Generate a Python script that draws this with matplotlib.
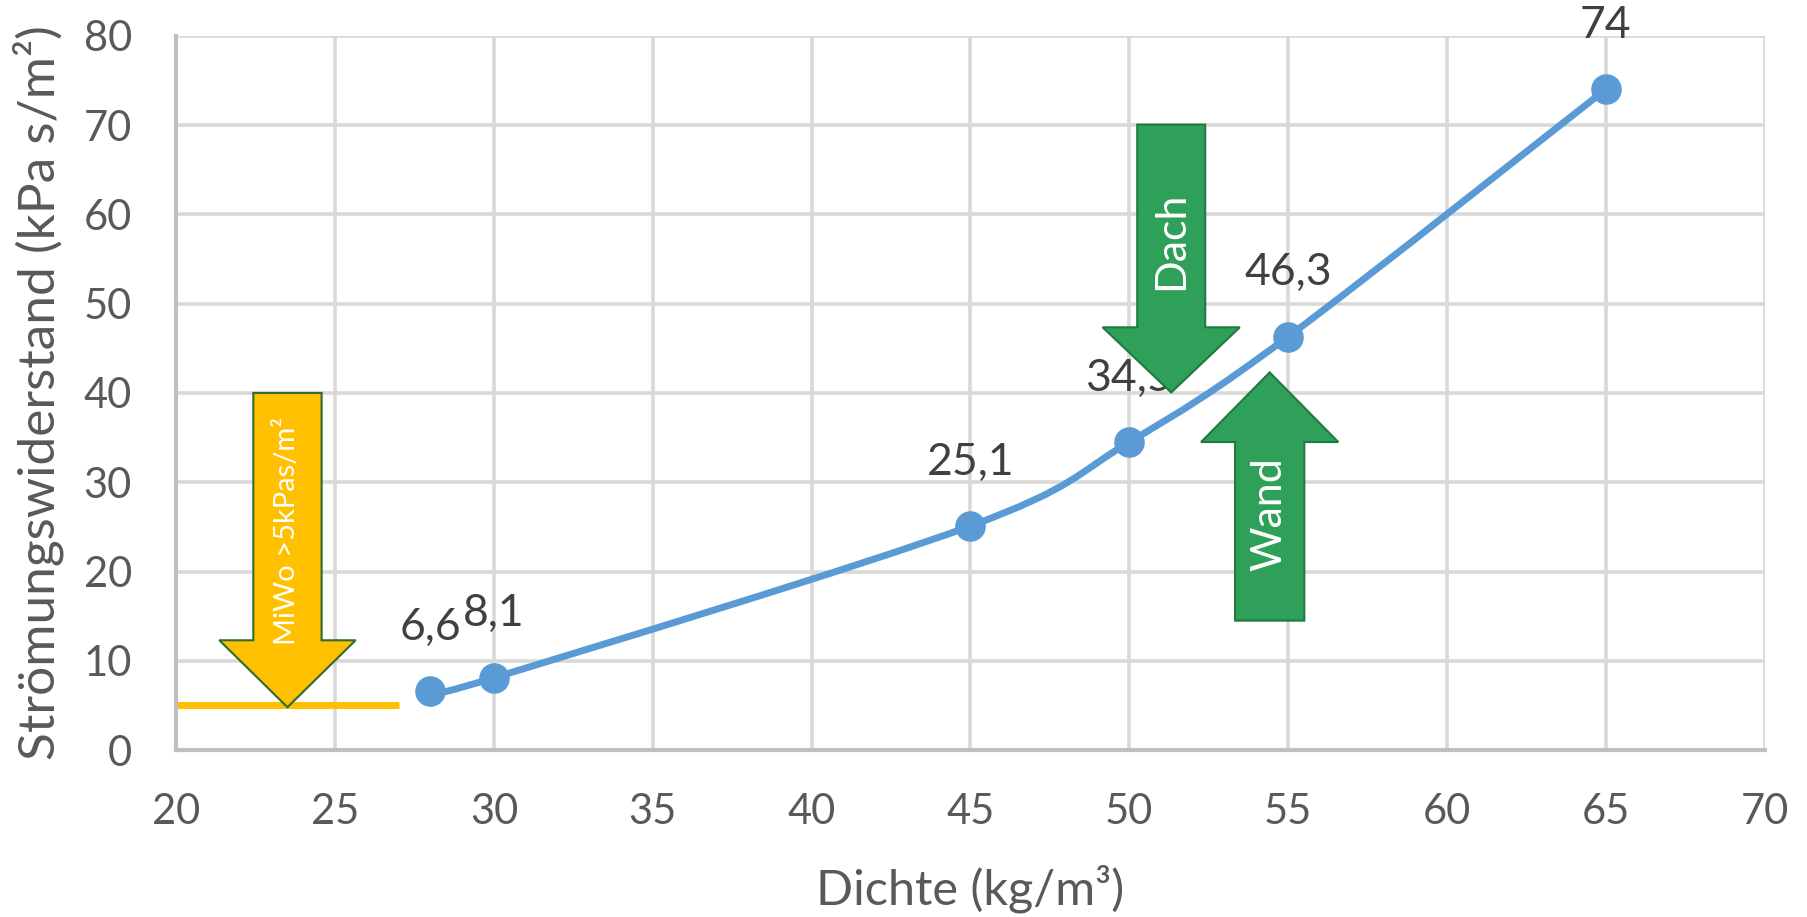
import numpy as np
import matplotlib
matplotlib.use("Agg")
import matplotlib.pyplot as plt
from matplotlib.path import Path
from matplotlib.patches import PathPatch, FancyArrow

plt.rcParams["font.family"] = ["Lato", "DejaVu Sans"]

# measured points
dichte = [28, 30, 45, 50, 55, 65]
widerstand = [6.6, 8.1, 25.1, 34.5, 46.3, 74]
labels = ["6,6", "8,1", "25,1", "34,5", "46,3", "74"]

x_ticks = [20, 25, 30, 35, 40, 45, 50, 55, 60, 65, 70]
y_ticks = [0, 10, 20, 30, 40, 50, 60, 70, 80]

limit_value = 5
limit_x = [20, 27]

BLUE = "#5b9bd5"
GRID = "#d9d9d9"
TICK = "#595959"
GREEN = "#2fa05a"
GREEN_EDGE = "#1f7a3f"
YELLOW = "#ffc000"


def smooth_path(xs, ys):
    # excel style smoothing: catmull-rom segments as cubic beziers
    pts = np.column_stack([xs, ys]).astype(float)
    verts = [pts[0]]
    codes = [Path.MOVETO]
    n = len(pts)
    for i in range(n - 1):
        p0 = pts[max(i - 1, 0)]
        p1 = pts[i]
        p2 = pts[i + 1]
        p3 = pts[min(i + 2, n - 1)]
        c1 = p1 + (p2 - p0) / 6.0
        c2 = p2 - (p3 - p1) / 6.0
        verts += [c1, c2, p2]
        codes += [Path.CURVE4] * 3
    return Path(verts, codes)


fig = plt.figure(figsize=(18.08, 9.17), dpi=100)
ax = fig.add_axes([0.0975, 0.182, 0.8785, 0.779])

ax.set_xlim(20, 70)
ax.set_ylim(0, 80)
ax.set_xticks(x_ticks)
ax.set_yticks(y_ticks)
ax.grid(True, color=GRID, linewidth=2.6, zorder=0)
ax.set_axisbelow(True)
for side in ["top", "right"]:
    ax.spines[side].set_visible(False)
for side in ["left", "bottom"]:
    ax.spines[side].set_color("#bfbfbf")
    ax.spines[side].set_linewidth(3)
ax.tick_params(length=0, labelsize=30, labelcolor=TICK)
ax.tick_params(axis="x", pad=31)
ax.tick_params(axis="y", pad=32)

ax.set_xlabel("Dichte (kg/m³)", fontsize=35, color=TICK, labelpad=24)
ax.set_ylabel("Strömungswiderstand (kPa s/m²)", fontsize=37, color=TICK, labelpad=14)

# limit line
ax.plot(limit_x, [limit_value, limit_value], color=YELLOW, linewidth=5,
        solid_capstyle="butt", zorder=2)

# curve and markers
ax.add_patch(PathPatch(smooth_path(dichte, widerstand), facecolor="none",
                       edgecolor=BLUE, linewidth=5, zorder=3))
ax.plot(dichte, widerstand, linestyle="none", marker="o", markersize=21,
        color=BLUE, zorder=4)

for x, y, t in zip(dichte, widerstand, labels):
    ax.annotate(t, (x, y), xytext=(0, 46), textcoords="offset points",
                ha="center", va="center", fontsize=32, color="#404040",
                zorder=5, annotation_clip=False)

# arrows
ax.add_patch(FancyArrow(23.5, 40, 0, -35.2, width=2.15, head_width=4.29,
                        head_length=7.5, length_includes_head=True,
                        facecolor=YELLOW, edgecolor="#2e6b2e", linewidth=1.5,
                        zorder=6))
ax.text(23.5, 24.5, "MiWo >5kPas/m²", rotation=90, ha="center", va="center",
        fontsize=21, color="white", zorder=7)

ax.add_patch(FancyArrow(51.32, 70.05, 0, -30, width=2.14, head_width=4.32,
                        head_length=7.3, length_includes_head=True,
                        facecolor=GREEN, edgecolor=GREEN_EDGE, linewidth=1.5,
                        zorder=6))
ax.text(51.32, 57, "Dach", rotation=90, ha="center", va="center",
        fontsize=31, color="white", zorder=7)

ax.add_patch(FancyArrow(54.42, 14.5, 0, 27.8, width=2.18, head_width=4.32,
                        head_length=7.8, length_includes_head=True,
                        facecolor=GREEN, edgecolor=GREEN_EDGE, linewidth=1.5,
                        zorder=6))
ax.text(54.42, 26.4, "Wand", rotation=90, ha="center", va="center",
        fontsize=31, color="white", zorder=7)

fig.savefig("out.png", dpi=100)
